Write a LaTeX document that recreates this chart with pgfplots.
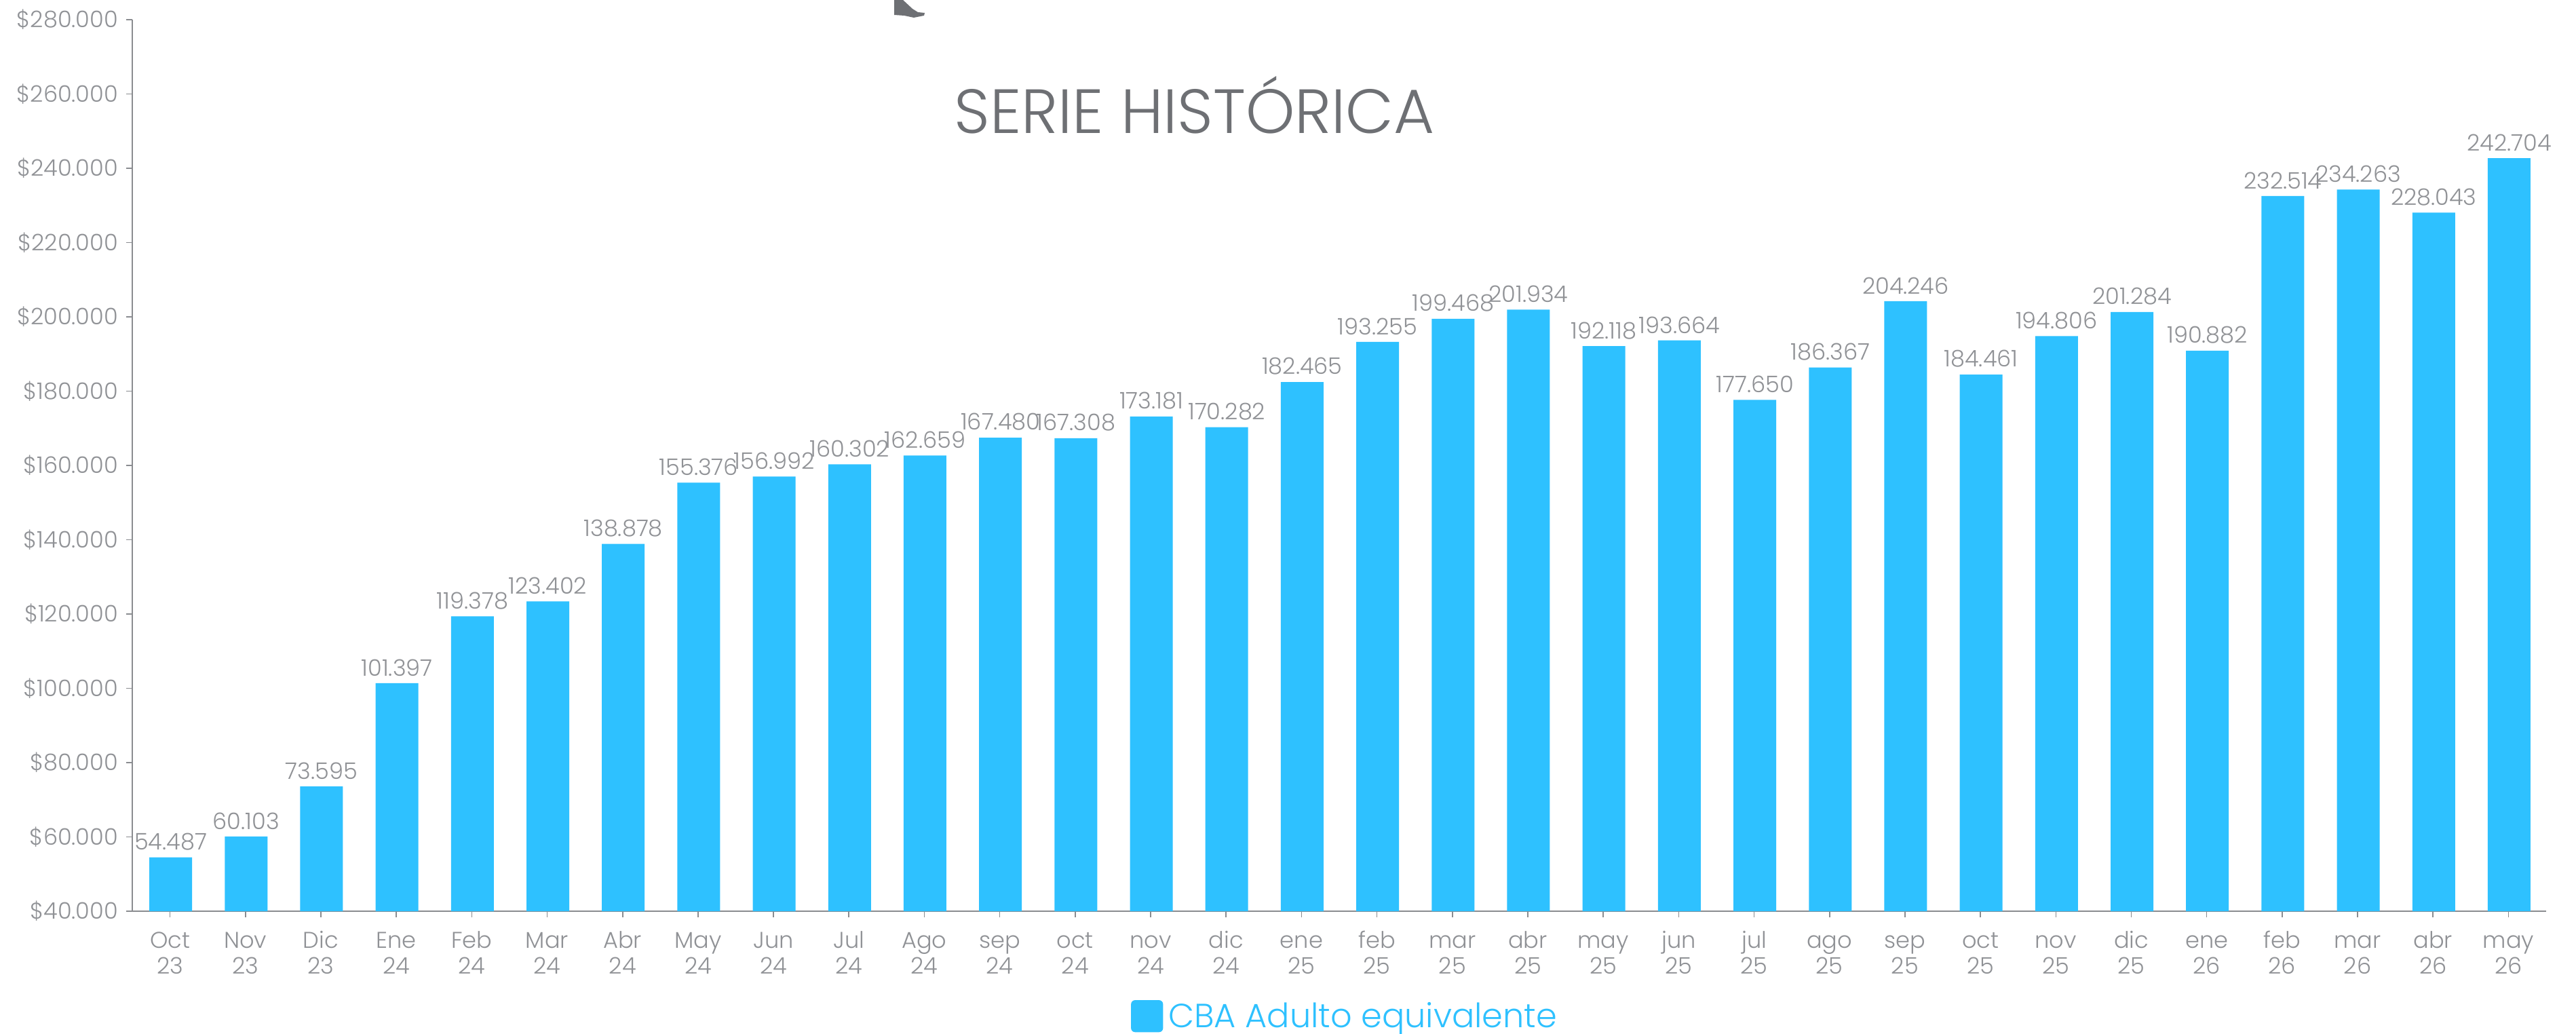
\documentclass[border=0pt]{standalone}
\usepackage{pgfplots}
\pgfplotsset{compat=1.18}
\usepackage{fontspec}
\setmainfont{Poppins Light}
\definecolor{barblue}{HTML}{2EC1FF}
\definecolor{axisgray}{HTML}{8A8C90}
\definecolor{labgray}{HTML}{909296}
\definecolor{titlegray}{HTML}{6E7074}
\newcommand\xl[2]{\rule{0pt}{7pt}#1\\#2}
\begin{document}
\begin{tikzpicture}
\path[use as bounding box] (0pt,0pt) rectangle (949.25pt,380.75pt);
\fill[white] (0pt,0pt) rectangle (949.25pt,380.75pt);
\begin{axis}[
  at={(48.75pt,45pt)},anchor=south west,
  scale only axis,width=889.5pt,height=328.5pt,
  xmin=-0.5,xmax=31.5,ymin=40000,ymax=280000,
  axis lines=left,
  axis line style={-,color=axisgray,line width=0.5pt},
  tick style={color=axisgray,line width=0.4pt},
  major tick length=2.2pt,
  tick align=outside,
  scaled y ticks=false,
  ytick={40000,60000,80000,100000,120000,140000,160000,180000,200000,220000,240000,260000,280000},
  yticklabel={\$\pgfmathprintnumber{\tick}},
  /pgf/number format/.cd,fixed,precision=0,1000 sep={.},assume math mode=true,
  /pgfplots/.cd,
  yticklabel style={font=\fontsize{8.4}{10}\selectfont,text=labgray,xshift=0.5pt},
  xtick=data,
  xticklabels={{\xl{Oct}{23}},{\xl{Nov}{23}},{\xl{Dic}{23}},{\xl{Ene}{24}},{\xl{Feb}{24}},{\xl{Mar}{24}},{\xl{Abr}{24}},{\xl{May}{24}},{\xl{Jun}{24}},{\xl{Jul}{24}},{\xl{Ago}{24}},{\xl{sep}{24}},{\xl{oct}{24}},{\xl{nov}{24}},{\xl{dic}{24}},{\xl{ene}{25}},{\xl{feb}{25}},{\xl{mar}{25}},{\xl{abr}{25}},{\xl{may}{25}},{\xl{jun}{25}},{\xl{jul}{25}},{\xl{ago}{25}},{\xl{sep}{25}},{\xl{oct}{25}},{\xl{nov}{25}},{\xl{dic}{25}},{\xl{ene}{26}},{\xl{feb}{26}},{\xl{mar}{26}},{\xl{abr}{26}},{\xl{may}{26}}},
  xticklabel style={font=\fontsize{8.4}{9.6}\selectfont,text=labgray,align=center,yshift=-0.9pt},
  ybar,bar width=15.75pt,bar shift=0.25pt,
  nodes near coords,
  nodes near coords style={font=\fontsize{8.4}{10}\selectfont,text=labgray,inner sep=0pt,yshift=2.4pt},
  legend style={at={(0.5,-0.0955)},anchor=north,xshift=2.8pt,draw=none,fill=none,font=\fontsize{12.35}{14}\selectfont,text=barblue,inner sep=0pt},
  legend image code/.code={\fill[barblue,rounded corners=1.5pt] (0pt,-5.6pt) rectangle (11.8pt,6.2pt);},
  clip=false,
]
\addplot[fill=barblue,draw=none] table[x=i,y=v] {
i v
0 54487
1 60103
2 73595
3 101397
4 119378
5 123402
6 138878
7 155376
8 156992
9 160302
10 162659
11 167480
12 167308
13 173181
14 170282
15 182465
16 193255
17 199468
18 201934
19 192118
20 193664
21 177650
22 186367
23 204246
24 184461
25 194806
26 201284
27 190882
28 232514
29 234263
30 228043
31 242704
};
\addlegendentry{CBA Adulto equivalente}
\end{axis}
\begin{scope}[x=0.25pt,y=0.25pt]
\node[anchor=base west,inner sep=0pt,text=titlegray,font=\fontsize{23}{26}\selectfont] at (1406,1326) {SERIE HISTÓRICA};
\fill[titlegray] (1318,1523) -- (1331,1523) -- (1345,1510) -- (1353,1505) -- (1363,1504) -- (1362,1500) -- (1347,1497) -- (1333,1500) -- (1318,1501) -- cycle;
\end{scope}
\end{tikzpicture}
\end{document}
